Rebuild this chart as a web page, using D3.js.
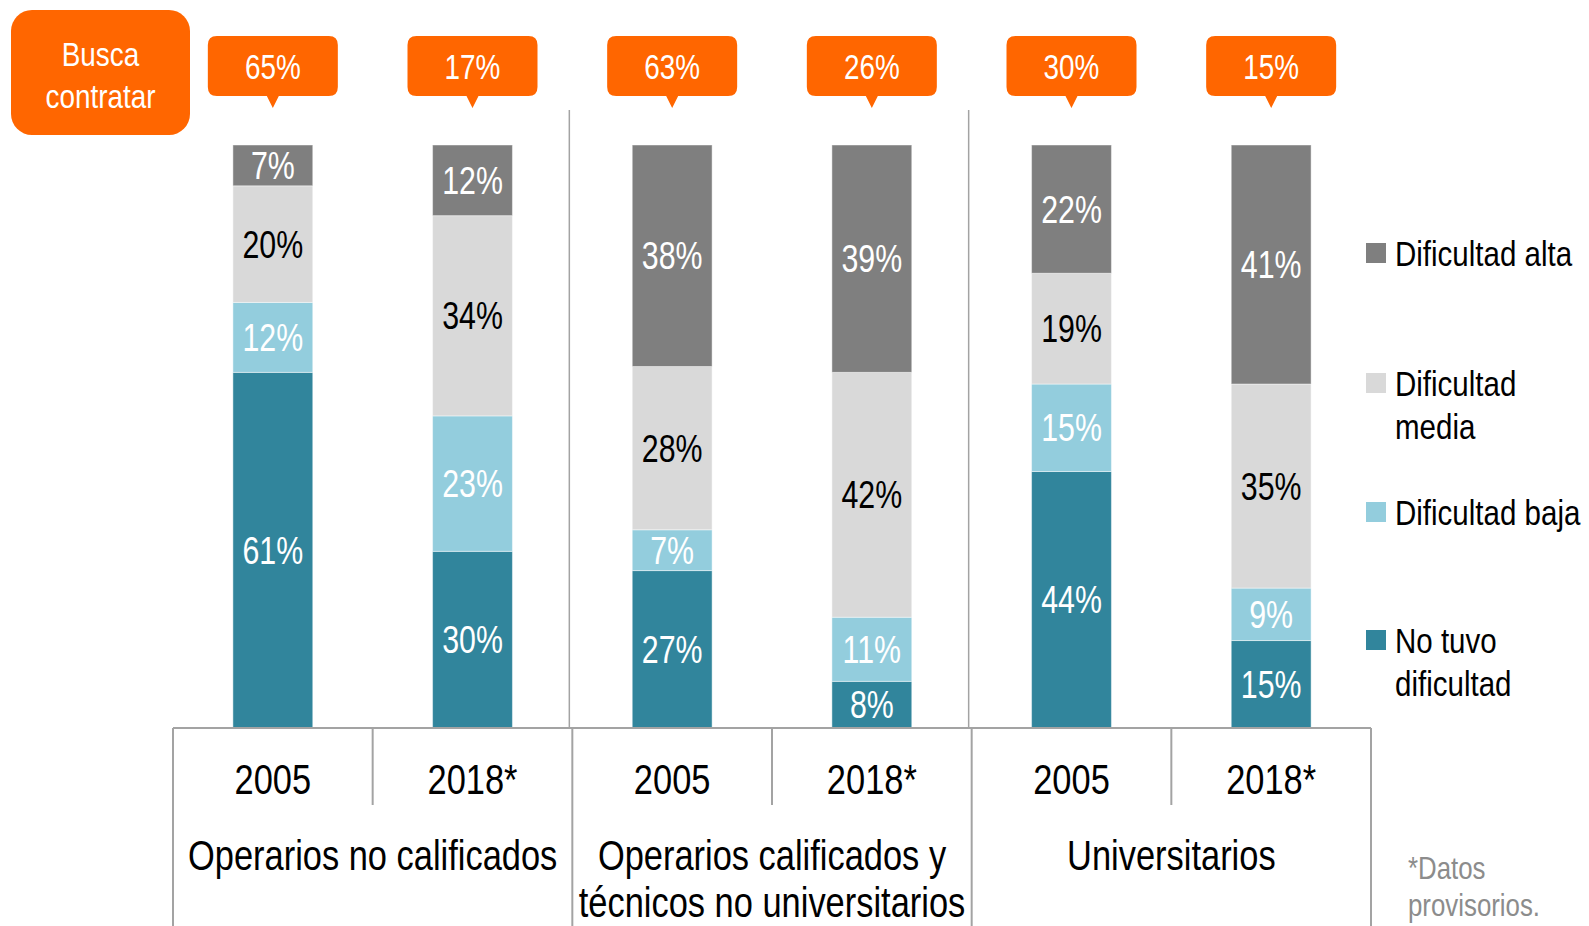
<!DOCTYPE html>
<html>
<head>
<meta charset="utf-8">
<script src="https://cdn.jsdelivr.net/npm/d3@7"></script>
<style>
  html, body { margin: 0; padding: 0; background: #fff; }
  svg { display: block; }
  text { font-family: "Liberation Sans Narrow", "Arial Narrow", "Liberation Sans", Arial, sans-serif; }
</style>
</head>
<body>
<svg id="chart" width="1589" height="926"></svg>
<script>
// ---- Data ----
const groups = [
  ["Operarios no calificados"],
  ["Operarios calificados y", "técnicos no universitarios"],
  ["Universitarios"]
];
const years = ["2005", "2018*", "2005", "2018*", "2005", "2018*"];
const groupIndex = [0, 0, 1, 1, 2, 2];
const noTuvo = [61, 30, 27, 8, 44, 15];
const baja   = [12, 23, 7, 11, 15, 9];
const media  = [20, 34, 28, 42, 19, 35];
const alta   = [7, 12, 38, 39, 22, 41];
const buscaContratar = [65, 17, 63, 26, 30, 15];
const seriesKeys = ["noTuvo", "baja", "media", "alta"];
const seriesNames = {
  alta: ["Dificultad alta"],
  media: ["Dificultad", "media"],
  baja: ["Dificultad baja"],
  noTuvo: ["No tuvo", "dificultad"]
};
const legendOrder = ["alta", "media", "baja", "noTuvo"];
const colors = { noTuvo: "#31859c", baja: "#93cddd", media: "#d9d9d9", alta: "#7f7f7f" };
const labelColors = { noTuvo: "#ffffff", baja: "#ffffff", media: "#000000", alta: "#ffffff" };
const orange = "#ff6600";
const axisGray = "#a3a3a3";

const rows = years.map((y, i) => ({
  id: i, year: y, group: groupIndex[i],
  noTuvo: noTuvo[i], baja: baja[i], media: media[i], alta: alta[i],
  busca: buscaContratar[i]
}));

// narrow-font helper: regular face compressed horizontally
const SX = 0.82;
function ntext(parent, x, y, lines, opts) {
  const g = parent.append("g").attr("transform", `translate(${x},${y}) scale(${SX},${opts.sy || 1})`);
  const t = g.append("text")
    .attr("x", 0).attr("y", 0)
    .attr("text-anchor", opts.anchor || "middle")
    .attr("font-size", opts.fs)
    .attr("fill", opts.fill || "#000");
  t.selectAll("tspan").data(lines).join("tspan")
    .attr("x", 0).attr("dy", (d, i) => i === 0 ? 0 : (opts.lh || 0) / (opts.sy || 1))
    .text(d => d);
  return g;
}

// ---- Layout ----
const svg = d3.select("#chart");
const axisY = 728, topY = 145;
const x = d3.scaleBand().domain(rows.map(d => d.id)).range([173, 1371]).padding(0);
const barW = x.bandwidth() * 0.4;
const y = d3.scaleLinear().domain([0, 1]).range([axisY, topY]);

const stack = d3.stack().keys(seriesKeys).offset(d3.stackOffsetExpand);
const stacked = stack(rows);

// ---- Separators above axis ----
const groupBounds = [2, 4].map(i => x(i));
svg.selectAll("line.sep").data(groupBounds).join("line")
  .attr("class", "sep")
  .attr("x1", d => d - 3).attr("x2", d => d - 3)
  .attr("y1", 110).attr("y2", axisY)
  .attr("stroke", axisGray).attr("stroke-width", 1.5);

// ---- Bars ----
const layer = svg.append("g").selectAll("g").data(stacked).join("g")
  .attr("fill", d => colors[d.key]);
layer.selectAll("rect").data(d => d.map(p => ({ p, key: d.key }))).join("rect")
  .attr("x", d => x(d.p.data.id) + (x.bandwidth() - barW) / 2)
  .attr("width", barW)
  .attr("y", d => y(d.p[1]))
  .attr("height", d => y(d.p[0]) - y(d.p[1]))
  .attr("stroke", "#ffffff").attr("stroke-opacity", 0.45).attr("stroke-width", 1);

// labels
const labFs = 37;
const labG = svg.append("g");
stacked.forEach(s => {
  s.forEach(d => {
    ntext(labG, x(d.data.id) + x.bandwidth() / 2,
      (y(d[0]) + y(d[1])) / 2 + labFs * 0.37,
      [d.data[s.key] + "%"], { fs: labFs, fill: labelColors[s.key], sy: 1.04 });
  });
});

// ---- Axis ----
svg.append("line")
  .attr("x1", x.range()[0]).attr("x2", x.range()[1])
  .attr("y1", axisY).attr("y2", axisY)
  .attr("stroke", axisGray).attr("stroke-width", 2);
const tickPos = d3.range(7).map(i => i < 6 ? x(i) : x.range()[1]);
svg.selectAll("line.tick").data(tickPos).join("line")
  .attr("class", "tick")
  .attr("x1", d => d).attr("x2", d => d)
  .attr("y1", axisY)
  .attr("y2", (d, i) => i % 2 === 0 ? 926 : 805)
  .attr("stroke", axisGray).attr("stroke-width", 2);

const axG = svg.append("g");
rows.forEach(d => {
  ntext(axG, x(d.id) + x.bandwidth() / 2, 794, [d.year], { fs: 42 });
});
groups.forEach((lines, gi) => {
  ntext(axG, x(gi * 2 + 1), 870, lines, { fs: 42, lh: 47.5 });
});

// ---- Bubbles ----
function bubblePath(cx, top, w, h, r, tail, tw) {
  const l = cx - w / 2, rt = cx + w / 2, b = top + h;
  const p = d3.path();
  p.moveTo(l + r, top);
  p.lineTo(rt - r, top);
  p.quadraticCurveTo(rt, top, rt, top + r);
  p.lineTo(rt, b - r);
  p.quadraticCurveTo(rt, b, rt - r, b);
  p.lineTo(cx + tw / 2, b);
  p.lineTo(cx, b + tail);
  p.lineTo(cx - tw / 2, b);
  p.lineTo(l + r, b);
  p.quadraticCurveTo(l, b, l, b - r);
  p.lineTo(l, top + r);
  p.quadraticCurveTo(l, top, l + r, top);
  p.closePath();
  return p.toString();
}
const bubG = svg.append("g");
bubG.selectAll("path").data(rows).join("path")
  .attr("d", d => bubblePath(x(d.id) + x.bandwidth() / 2, 36, 130, 60, 9, 12, 12))
  .attr("fill", orange);
rows.forEach(d => {
  ntext(bubG, x(d.id) + x.bandwidth() / 2, 36 + 30 + 34 * 0.37, [d.busca + "%"],
    { fs: 34, fill: "#fff", sy: 1.04 });
});

// "Busca contratar" box
svg.append("rect")
  .attr("x", 11).attr("y", 10).attr("width", 179).attr("height", 125)
  .attr("rx", 21).attr("fill", orange);
ntext(svg, 100.5, 53.5 + 12, ["Busca", "contratar"], { fs: 34, fill: "#fff", lh: 42.5 });

// ---- Legend ----
const legendBase = { alta: 266, media: 396, baja: 525, noTuvo: 653 };
const lg = svg.append("g");
lg.selectAll("rect").data(legendOrder).join("rect")
  .attr("x", 1366).attr("y", d => legendBase[d] - 23)
  .attr("width", 20).attr("height", 20)
  .attr("fill", d => colors[d]);
legendOrder.forEach(k => {
  ntext(lg, 1395, legendBase[k], seriesNames[k], { fs: 36, anchor: "start", lh: 42.6 });
});

// ---- Footnote ----
ntext(svg, 1408, 879, ["*Datos", "provisorios."], { fs: 31.5, fill: "#8c8c8c", anchor: "start", lh: 37 });
</script>
</body>
</html>
